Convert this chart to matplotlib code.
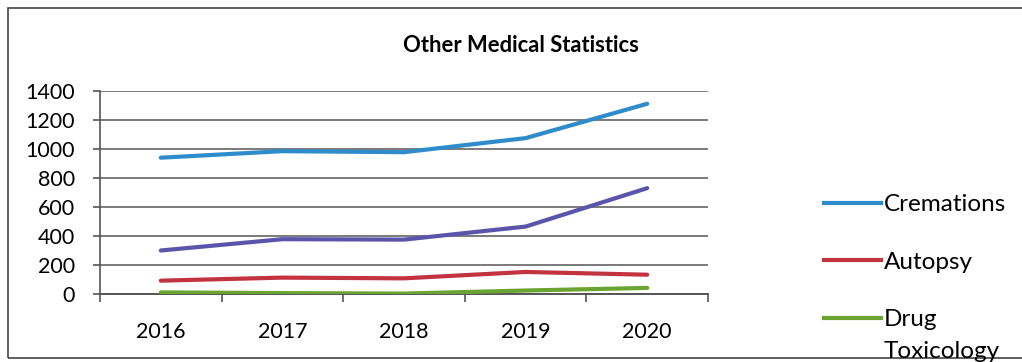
import matplotlib
matplotlib.use("Agg")
import matplotlib.pyplot as plt
from matplotlib.lines import Line2D
from matplotlib.patches import Rectangle

years = ["2016", "2017", "2018", "2019", "2020"]
cremations = [940, 985, 978, 1075, 1312]
other_series = [300, 378, 375, 465, 730]
autopsy = [92, 113, 108, 152, 133]
drug_toxicology = [11, 6, 3, 24, 42]
y_ticks = [0, 200, 400, 600, 800, 1000, 1200, 1400]

title = "Other Medical Statistics"
font = ["Lato", "DejaVu Sans"]

c_blue = "#2f8ccb"
c_purple = "#5a55aa"
c_red = "#c2323f"
c_green = "#6aa431"

fig = plt.figure(figsize=(10.22, 3.62), dpi=100)
fig.patches.append(Rectangle((8 / 1022, 4 / 362), 1.2, 350 / 362, transform=fig.transFigure,
                             fill=False, edgecolor="#444444", linewidth=1.2))

ax = fig.add_axes([100 / 1022, (362 - 294) / 362, 608 / 1022, 203 / 362])
x = list(range(len(years)))
lw = 3.0
ax.plot(x, cremations, color=c_blue, lw=lw, solid_capstyle="round", zorder=3)
ax.plot(x, other_series, color=c_purple, lw=lw, solid_capstyle="round", zorder=3)
ax.plot(x, autopsy, color=c_red, lw=lw, solid_capstyle="round", zorder=3)
ax.plot(x, drug_toxicology, color=c_green, lw=lw, solid_capstyle="round", zorder=3)

ax.set_xlim(-0.5, len(years) - 0.5)
ax.set_ylim(0, 1400)
ax.set_yticks(y_ticks)
ax.set_yticklabels([str(v) for v in y_ticks], fontfamily=font, fontsize=15.5)
ax.set_xticks(x)
ax.set_xticklabels(years, fontfamily=font, fontsize=15.5)
ax.set_xticks([i - 0.5 for i in range(len(years) + 1)], minor=True)
ax.tick_params(axis="x", which="major", length=0, pad=20)
ax.tick_params(axis="x", which="minor", length=6, color="#555555", width=1.2, direction="out")
ax.tick_params(axis="y", length=5, color="#555555", width=1.2, pad=13)
ax.grid(axis="y", color="#7a7a7a", linewidth=1.4, zorder=1)
ax.set_axisbelow(True)
for s in ["top", "right"]:
    ax.spines[s].set_visible(False)
ax.spines["left"].set_color("#555555")
ax.spines["left"].set_linewidth(1.2)
ax.spines["bottom"].set_color("#555555")
ax.spines["bottom"].set_linewidth(1.4)

fig.text(521 / 1022, 1 - 46 / 362, title, ha="center", va="center",
         fontsize=15.8, fontweight="bold", fontfamily=font)

handles = [Line2D([], [], color=c_blue, lw=lw),
           Line2D([], [], color=c_red, lw=lw),
           Line2D([], [], color=c_green, lw=lw)]
labels = ["Cremations", "Autopsy", "Drug"]
leg = fig.legend(handles, labels, loc="upper left",
                 bbox_to_anchor=(824 / 1022, 1 - 194 / 362),
                 frameon=False, prop={"family": font, "size": 17.5},
                 handlelength=2.35, handletextpad=0.12, labelspacing=1.51,
                 borderpad=0, borderaxespad=0)
fig.text(884 / 1022, 1 - 351 / 362, "Toxicology", ha="left", va="center",
         fontsize=17.5, fontfamily=font)

fig.savefig("out.png", dpi=100)
